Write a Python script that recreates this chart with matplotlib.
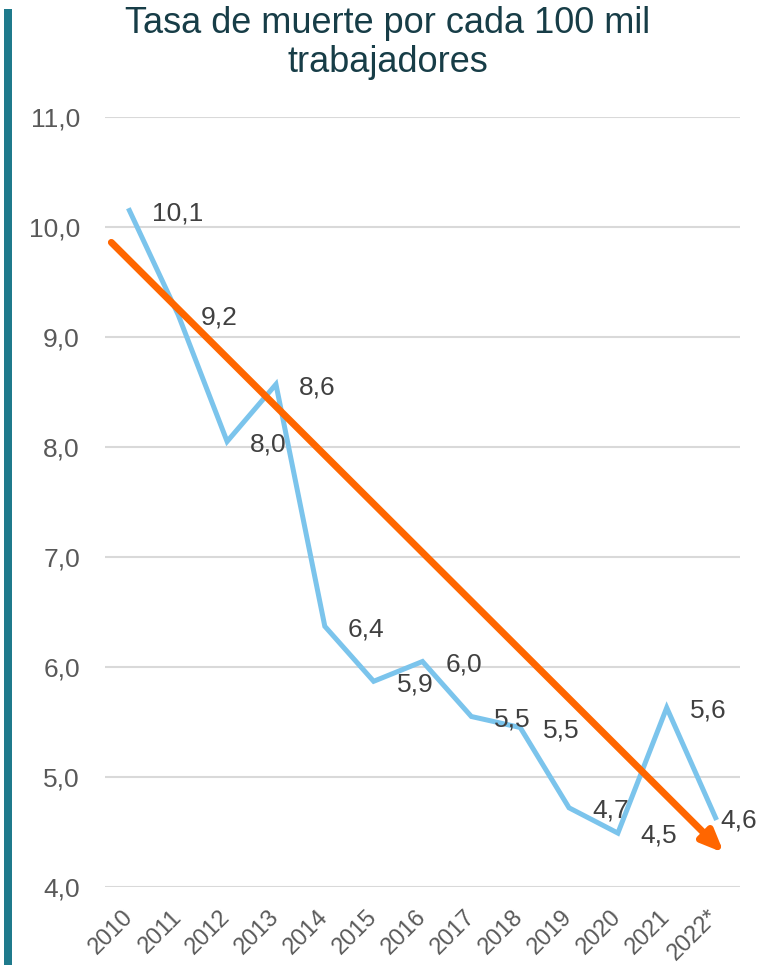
import numpy as np
import matplotlib.pyplot as plt
from matplotlib.patches import Rectangle

plt.rcParams['font.family'] = ['Liberation Sans', 'DejaVu Sans']

# Datos
anios = ['2010', '2011', '2012', '2013', '2014', '2015', '2016',
         '2017', '2018', '2019', '2020', '2021', '2022*']
tasa = [10.15, 9.2, 8.05, 8.57, 6.37, 5.87, 6.05, 5.55, 5.45, 4.72, 4.49, 5.63, 4.63]
etiquetas = ['10,1', '9,2', '8,0', '8,6', '6,4', '5,9', '6,0',
             '5,5', '5,5', '4,7', '4,5', '5,6', '4,6']

# flecha de tendencia (inicio y fin en coordenadas de datos)
flecha_ini = (-0.37, 9.86)
flecha_fin = (12.17, 4.31)

# desplazamiento horizontal de etiquetas (puntos)
etiq_dx = [16.5] * 12 + [3.5]

fig = plt.figure(figsize=(7.68, 9.65), dpi=100)
ax = fig.add_axes([105/768, 1 - 887/965, 635/768, 770/965])

x = np.arange(len(anios))
ax.plot(x, tasa, color='#7bc4ec', lw=3.6, solid_joinstyle='miter', zorder=3)

for xi, yi, t, dx in zip(x, tasa, etiquetas, etiq_dx):
    ax.annotate(t, (xi, yi), xytext=(dx, -2), textcoords='offset points',
                ha='left', va='center', fontsize=19, color='#404040', zorder=5)

ax.annotate('', xy=flecha_fin, xytext=flecha_ini,
            arrowprops=dict(arrowstyle='-|>,head_length=1.3,head_width=0.55',
                            color='#ff6600', lw=5, shrinkA=0, shrinkB=0,
                            mutation_scale=10), zorder=4)

ax.set_xlim(-0.5, 12.5)
ax.set_ylim(4, 11)
ax.set_yticks(np.arange(4, 11.1, 1))
ax.set_yticklabels([f'{v:.1f}'.replace('.', ',') for v in np.arange(4, 11.1, 1)])
ax.set_xticks(x)
ax.set_xticklabels(anios, rotation=45, ha='right', va='center',
                   rotation_mode='anchor')
ax.tick_params(axis='y', length=0, pad=18, labelsize=19, labelcolor='#595959')
ax.tick_params(axis='x', length=0, pad=19, labelsize=17, labelcolor='#595959')
ax.grid(axis='y', color='#d9d9d9', lw=1.5)
ax.set_axisbelow(True)
for s in ax.spines.values():
    s.set_visible(False)

fig.text(388/768, 1 - 6/965, 'Tasa de muerte por cada 100 mil\ntrabajadores',
         ha='center', va='top', fontsize=26, color='#173d47', linespacing=1.15)

fig.add_artist(Rectangle((4/768, 0), 8/768, 1 - 9/965, transform=fig.transFigure,
                         color='#1f7a8c', lw=0))

fig.savefig('out.png', dpi=100)
